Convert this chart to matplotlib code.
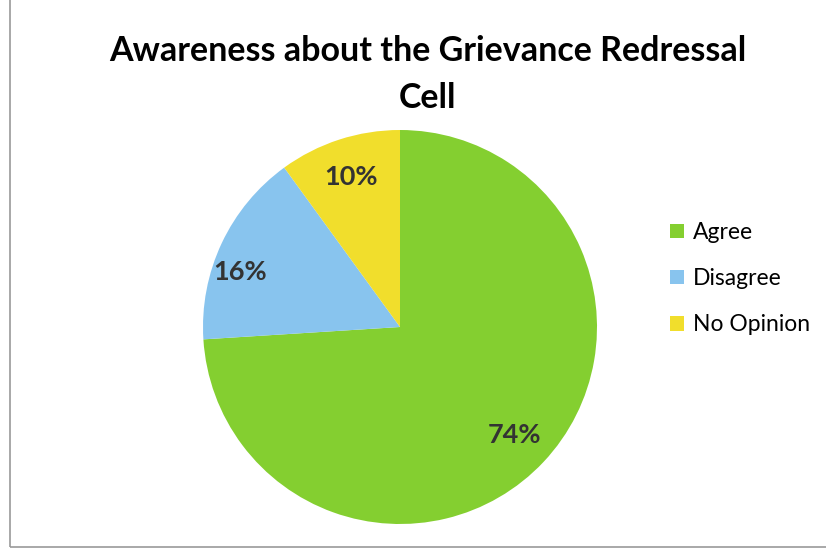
import matplotlib.pyplot as plt
from matplotlib.patches import Rectangle

labels = ['Agree', 'Disagree', 'No Opinion']
values = [74, 16, 10]
colors = ['#84CF30', '#88C4EE', '#F1DE2C']

plt.rcParams['font.family'] = ['Lato', 'DejaVu Sans']

fig = plt.figure(figsize=(8.26, 5.55), dpi=100)
fig.patch.set_facecolor('white')

# thin frame like the scanned chart border
fig.add_artist(Rectangle((0.012, 0.015), 1.2, 1.2, transform=fig.transFigure,
                         fill=False, edgecolor='#9a9a9a', lw=1.2))

ax = fig.add_axes([203 / 826, 31 / 555, 394 / 826, 394 / 555])
wedges, texts, autotexts = ax.pie(values, colors=colors, startangle=90, counterclock=False,
                                  autopct='%d%%', pctdistance=0.8,
                                  textprops=dict(fontsize=19.5, fontweight='bold', color='#333333'))
autotexts[1].set_position((-0.81, 0.28))
ax.set_xlim(-1, 1)
ax.set_ylim(-1, 1)
ax.set_aspect('equal')

fig.text(0.518, 0.866, 'Awareness about the Grievance Redressal\nCell', ha='center', va='center',
         fontsize=24.5, fontweight='bold', linespacing=1.55)

fig.legend(wedges, labels, loc='center left', bbox_to_anchor=(0.786, 0.498), frameon=False,
           fontsize=16.5, handlelength=0.6, handleheight=0.6, handletextpad=0.4, labelspacing=1.1)

plt.savefig('out.png', dpi=100)
